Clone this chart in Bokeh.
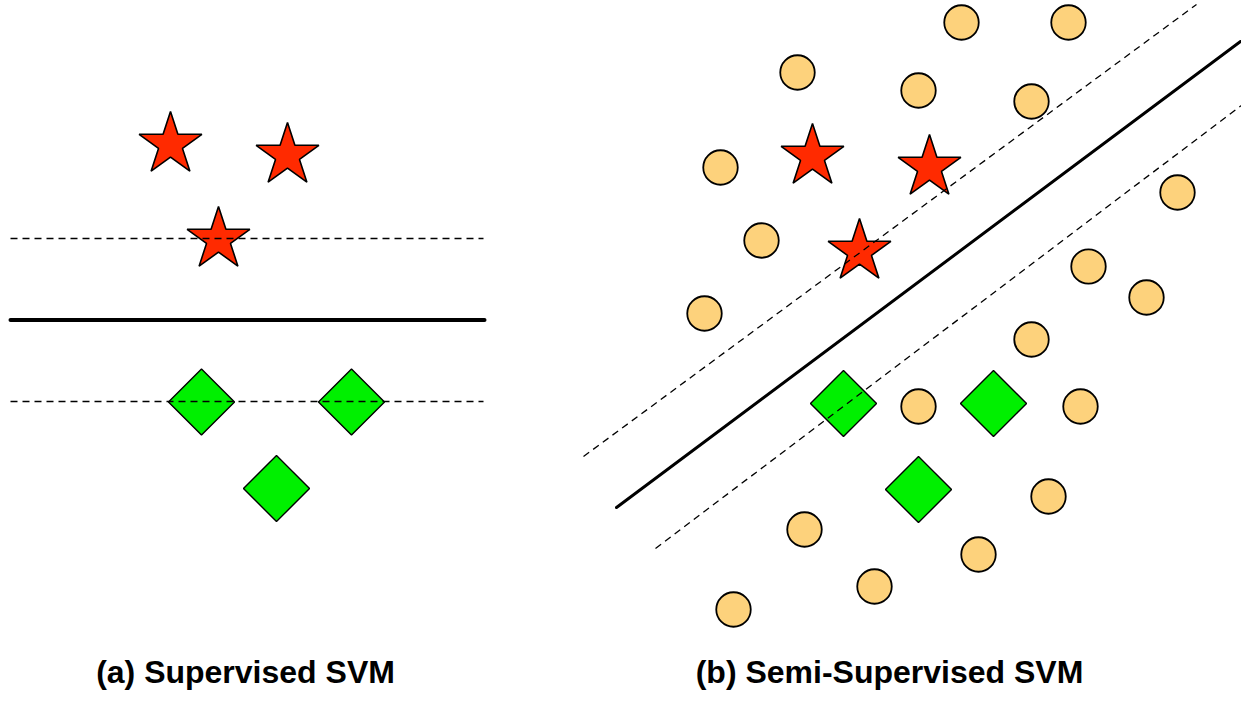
import math
from bokeh.plotting import figure
from bokeh.models import Range1d
from bokeh.core.properties import value
from bokeh.embed import file_html
from bokeh.resources import INLINE

# ---- data (reference pixel coordinates of the diagram) ----
# (a) supervised
a_star_x = [170, 287, 218]
a_star_y = [144, 155, 239]
a_diamond_x = [201, 351, 276]
a_diamond_y = [401.5, 401.5, 488]
a_bound_x = [10, 484]
a_bound_y = [319.5, 319.5]
a_margin_x0 = [10, 10]
a_margin_x1 = [483, 483]
a_margin_y = [238, 401]

# (b) semi-supervised
b_star_x = [812, 929, 859]
b_star_y = [156, 167, 251]
b_diamond_x = [843, 993, 918]
b_diamond_y = [403, 403, 489]
b_circle_x = [961, 1068, 797, 918, 1031, 720, 761, 704, 1177, 1088, 1146, 1031,
              918, 1080, 1048, 804, 978, 874, 733]
b_circle_y = [22, 22, 72, 90, 101, 167, 240, 313, 192, 266, 297, 339,
              406, 406, 496, 529, 554, 586, 609]
b_bound_x = [616, 1240]
b_bound_y = [507, 41]
b_margin_x0 = [583, 655]
b_margin_y0 = [456, 548]
b_margin_x1 = [1196, 1254]
b_margin_y1 = [4, 95]

labels = ["(a) Supervised SVM", "(b) Semi-Supervised SVM"]
label_x = [245, 889]
label_y = [689, 689]

STAR = "#FF2A00"
GREEN = "#00F000"
ORANGE = "#FDD27C"

p = figure(width=1241, height=690, output_backend="svg", toolbar_location=None,
           x_range=Range1d(0, 1241), y_range=Range1d(690, 0), min_border=0)
p.axis.visible = False
p.grid.visible = False
p.outline_line_color = None
p.background_fill_color = "white"
p.border_fill_color = "white"

# markers
p.scatter(b_circle_x, b_circle_y, marker="circle", size=34.5, fill_color=ORANGE,
          line_color="black", line_width=1.8)
p.scatter(a_diamond_x, a_diamond_y, marker="square", angle=math.pi / 4, size=46.7,
          fill_color=GREEN, line_color="black", line_width=1.4)
p.scatter(b_diamond_x, b_diamond_y, marker="square", angle=math.pi / 4, size=46.7,
          fill_color=GREEN, line_color="black", line_width=1.4)
p.scatter(a_star_x, a_star_y, marker="star", size=66, fill_color=STAR,
          line_color="black", line_width=1.6)
p.scatter(b_star_x, b_star_y, marker="star", size=66, fill_color=STAR,
          line_color="black", line_width=1.6)

# lines
p.segment(x0=a_margin_x0, y0=a_margin_y, x1=a_margin_x1, y1=a_margin_y,
          line_color="black", line_width=1.3, line_dash="7 5")
p.line(a_bound_x, a_bound_y, line_color="black", line_width=4, line_cap="round")
p.segment(x0=b_margin_x0, y0=b_margin_y0, x1=b_margin_x1, y1=b_margin_y1,
          line_color="black", line_width=1.3, line_dash="7 5")
p.line(b_bound_x, b_bound_y, line_color="black", line_width=3, line_cap="round")

# captions
p.text(x=label_x, y=label_y, text=labels, text_align="center",
       text_baseline="bottom", text_font=value("Liberation Sans"),
       text_font_style="bold", text_font_size="32px", text_color="black")

open("out.html", "w").write(file_html(p, INLINE))
